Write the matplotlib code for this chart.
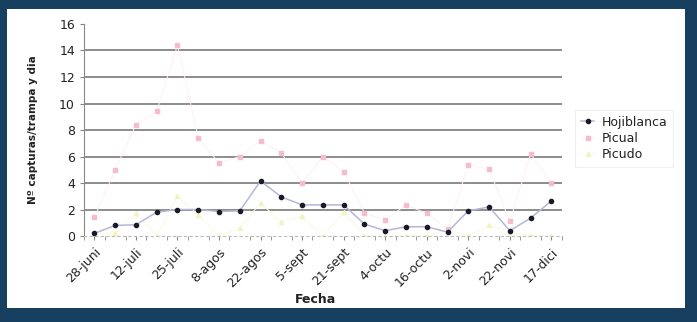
import numpy as np
import matplotlib.pyplot as plt

# fechas de muestreo (una etiqueta cada dos muestreos)
fechas = ["28-juni", "12-juli", "25-juli", "8-agos", "22-agos", "5-sept",
          "21-sept", "4-octu", "16-octu", "2-novi", "22-novi", "17-dici"]

# capturas por trampa y día
hojiblanca = [0.2, 0.8, 0.85, 1.8, 2.0, 2.0, 1.85, 1.9, 4.15, 2.95, 2.35, 2.35,
              2.35, 0.9, 0.4, 0.7, 0.7, 0.3, 1.9, 2.2, 0.4, 1.35, 2.65]
picual = [1.4, 5.0, 8.4, 9.4, 14.4, 7.4, 5.5, 6.0, 7.2, 6.25, 4.0, 6.0,
          4.85, 1.75, 1.2, 2.35, 1.7, 0.5, 5.35, 5.05, 1.1, 6.2, 4.0]
picudo = [0.1, 0.2, 1.7, 0.0, 3.0, 1.6, 0.0, 0.6, 2.5, 1.05, 1.5, 0.0,
          1.8, 0.0, 0.0, 0.0, 0.0, 0.5, 0.0, 0.8, 0.3, 0.0, 0.0]

x = np.arange(len(hojiblanca))

fig = plt.figure(figsize=(6.97, 3.22), dpi=100)
fig.patch.set_facecolor("#163f60")

# panel blanco detrás del gráfico
fondo = fig.add_axes([0.010, 0.044, 0.973, 0.928], zorder=-1)
fondo.set_facecolor("white")
fondo.set_xticks([])
fondo.set_yticks([])
for s in fondo.spines.values():
    s.set_visible(False)

ax = fig.add_axes([0.1205, 0.267, 0.6855, 0.6585])
ax.set_facecolor("none")

ax.plot(x, hojiblanca, color="#b4b8d8", lw=1.1, marker="o", ms=3,
        mfc="#1a1a28", mec="#1a1a28", label="Hojiblanca", zorder=4)
ax.plot(x, picual, color="#fdf0f2", lw=0.7, marker="s", ms=3,
        mfc="#f5bccb", mec="#f5bccb", label="Picual", zorder=3)
ax.plot(x, picudo, color="#fafae0", lw=0.7, marker="^", ms=3,
        mfc="#f3f3c0", mec="#f3f3c0", label="Picudo", zorder=2)

ax.set_xlim(-0.5, len(x) - 0.5)
ax.set_ylim(0, 16)
ax.set_yticks(range(0, 17, 2))
ax.set_xticks(x[::2])
ax.set_xticklabels(fechas, rotation=45, ha="right", rotation_mode="anchor",
                   fontsize=9, color="#222222")
ax.set_xticks(np.arange(-0.5, len(x), 1), minor=True)
ax.tick_params(axis="x", which="both", length=3, color="#888888", pad=4)
ax.tick_params(axis="y", length=3, color="#888888", labelsize=9, labelcolor="#222222")

for v in range(2, 16, 2):
    ax.axhline(v, color="#8c8c8c", lw=1.4, zorder=1)

for s in ["top", "right"]:
    ax.spines[s].set_visible(False)
ax.spines["left"].set_color("#888888")
ax.spines["bottom"].set_color("#bbbbbb")
ax.spines["bottom"].set_linestyle((0, (2, 3)))

ax.set_ylabel("Nº capturas/trampa y dia", fontsize=7.5, fontweight="bold",
              color="#222222", labelpad=15)
ax.set_xlabel("Fecha", fontsize=9, fontweight="bold", color="#222222")
ax.xaxis.set_label_coords(0.485, -0.27)

leg = ax.legend(loc="center left", bbox_to_anchor=(1.015, 0.46), fontsize=9,
                frameon=True, fancybox=False, handlelength=1.0, handletextpad=0.6,
                borderpad=0.5, labelspacing=0.25)
leg.get_frame().set_edgecolor("#ebebeb")
leg.get_frame().set_linewidth(0.8)
for t in leg.get_texts():
    t.set_color("#222222")

fig.savefig("out.png", dpi=100, facecolor=fig.get_facecolor())
